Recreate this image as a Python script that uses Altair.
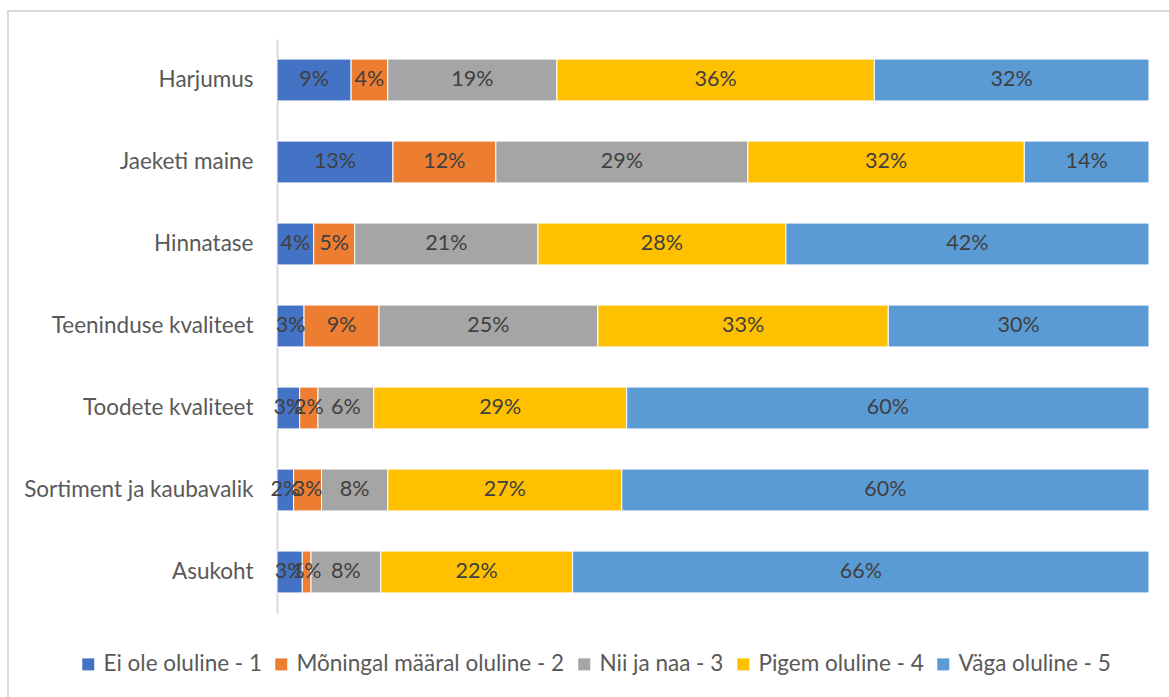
import altair as alt
import pandas as pd

categories = ["Harjumus", "Jaeketi maine", "Hinnatase", "Teeninduse kvaliteet",
              "Toodete kvaliteet", "Sortiment ja kaubavalik", "Asukoht"]
series = ["Ei ole oluline - 1", "Mõningal määral oluline - 2", "Nii ja naa - 3",
          "Pigem oluline - 4", "Väga oluline - 5"]
colors = ["#4472C4", "#ED7D31", "#A5A5A5", "#FFC000", "#5B9BD5"]

s1 = [8.5, 13.3, 4.2, 3.1, 2.6, 1.9, 2.9]
s2 = [4.2, 11.8, 4.7, 8.6, 2.1, 3.2, 1.0]
s3 = [19.4, 28.9, 21.0, 25.1, 6.4, 7.6, 8.0]
s4 = [36.4, 31.7, 28.4, 33.3, 29.0, 26.8, 22.0]
s5 = [31.5, 14.3, 41.6, 29.9, 59.9, 60.4, 66.1]

rows = []
for si, (name, vals) in enumerate(zip(series, [s1, s2, s3, s4, s5])):
    for cat, v in zip(categories, vals):
        rows.append({"cat": cat, "series": name, "order": si, "value": v})
df = pd.DataFrame(rows)

FONT = "Lato"
TXT = "#404040"
FS = 22.5

base = alt.Chart(df).transform_stack(
    stack="value", groupby=["cat"], sort=[alt.SortField("order")],
    as_=["x0", "x1"], offset="normalize"
).transform_calculate(
    mid="(datum.x0 + datum.x1) / 2",
    label="format(datum.value, '.0f') + '%'"
)

y = alt.Y("cat:N", sort=categories, title=None,
          scale=alt.Scale(paddingInner=0.49, paddingOuter=0.245),
          axis=alt.Axis(domainColor="#D9D9D9", domainWidth=2, ticks=False,
                        labelFontSize=FS, labelFont=FONT, labelColor="#595959",
                        labelPadding=24, labelLimit=300, grid=False))

bars = base.mark_bar(stroke="white", strokeWidth=1).encode(
    x=alt.X("x0:Q", scale=alt.Scale(domain=[0, 1]), axis=None),
    x2="x1:Q",
    y=y,
    color=alt.Color("series:N", sort=series,
                    scale=alt.Scale(domain=series, range=colors),
                    legend=alt.Legend(title=None, orient="none", direction="horizontal",
                                      legendX=-200, legendY=614,
                                      symbolType="square", symbolSize=144,
                                      symbolStrokeWidth=0,
                                      labelFontSize=FS, labelFont=FONT, labelColor="#595959",
                                      labelOffset=4, columnPadding=8, labelLimit=400)),
)

text = base.mark_text(fontSize=21.5, font=FONT, color=TXT).encode(
    x=alt.X("mid:Q", scale=alt.Scale(domain=[0, 1]), axis=None),
    y=alt.Y("cat:N", sort=categories, title=None),
    text="label:N",
)

frame = alt.Chart(pd.DataFrame({"a": [0]})).mark_rect(
    fill=None, stroke="#D9D9D9", strokeWidth=2
).encode(x=alt.value(-269), x2=alt.value(1015), y=alt.value(-28), y2=alt.value(700))

chart = alt.layer(frame, bars, text).properties(
    width=872, height=574,
    padding={"left": 277, "top": 39, "right": 20, "bottom": 84},
    autosize=alt.AutoSizeParams(type="none"),
    background="white",
).configure_view(stroke=None)

chart.save("out.html", embed_options={"renderer": "svg", "actions": False})
